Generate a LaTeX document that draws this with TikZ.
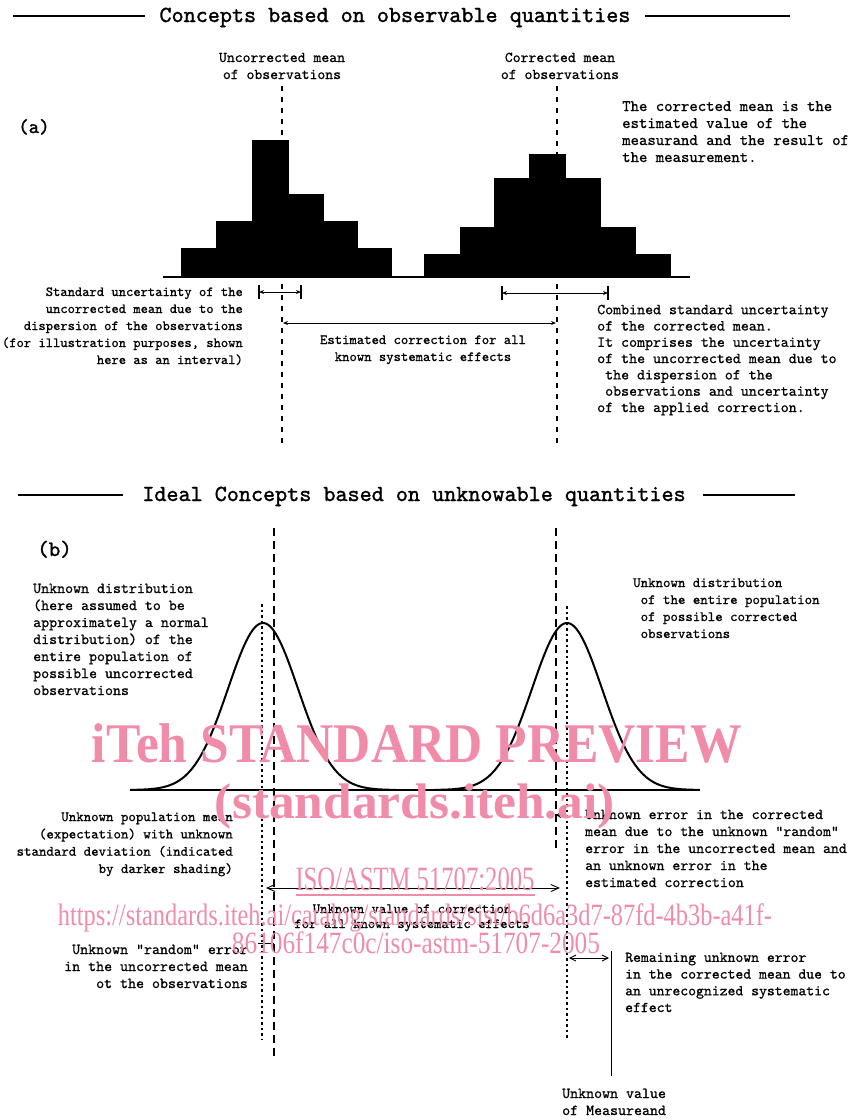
\documentclass[tikz,border=0pt]{standalone}
\usepackage{fontspec}
\usepackage{graphicx}
\newfontfamily\wmfont{Liberation Serif}
\newfontfamily\plotfont{lmmono10-regular.otf}[FakeBold=0.8]
\newfontfamily\plotfontH{lmmono10-regular.otf}[FakeBold=1.4]
\usetikzlibrary{arrows.meta}
\definecolor{wmpink}{RGB}{240,140,170}
\newcommand\fsz[2]{\fontsize{#1}{#2}\selectfont}
\begin{document}
\begin{tikzpicture}[x=1pt,y=-1pt,
  txt/.style={font=\plotfont\fsz{15}{17}, inner sep=0pt},
  ttl/.style={font=\plotfontH\fsz{23}{24}, inner sep=0pt},
  hline/.style={line width=1.3pt},
  meanA/.style={line width=1.5pt, dash pattern=on 5pt off 6pt},
  dashB/.style={line width=1.6pt, dash pattern=on 8pt off 5pt},
  dotB/.style={line width=1.6pt, dash pattern=on 2.5pt off 3pt},
  hist/.style={fill=black, draw=black, line width=0.6pt},
  base/.style={line width=1.8pt},
  bell/.style={line width=2pt, line join=round},
  tick/.style={line width=1.2pt},
  arrA/.style={line width=0.9pt, {Stealth[length=5pt,width=4pt]}-{Stealth[length=5pt,width=4pt]}},
  arrB/.style={line width=0.9pt, {Straight Barb[length=8pt,width=7pt]}-{Straight Barb[length=8pt,width=7pt]}},
  wm/.style={text=wmpink, inner sep=0pt, font=\wmfont},
]
\useasboundingbox (0,0) rectangle (854,1120);

% ---------------- headings ----------------
\node[ttl, anchor=base] (h1) at (395,22) {Concepts based on observable quantities};
\coordinate (h1a) at (13,16); \coordinate (h1b) at (145,16);
\coordinate (h1c) at (645,16); \coordinate (h1d) at (790,16);
\draw[hline] (h1a) -- (h1b); \draw[hline] (h1c) -- (h1d);

\node[ttl, anchor=base] (h2) at (414,501) {Ideal Concepts based on unknowable quantities};
\coordinate (h2a) at (18,495); \coordinate (h2b) at (123,495);
\coordinate (h2c) at (703,495); \coordinate (h2d) at (795,495);
\draw[hline] (h2a) -- (h2b); \draw[hline] (h2c) -- (h2d);

\node[txt, font=\plotfontH\fsz{20}{22}, anchor=base west] (pa) at (18,133) {(a)};
\node[txt, font=\plotfontH\fsz{22}{24}, anchor=base west] (pb) at (37,556) {(b)};

% ---------------- part (a) ----------------
% (anchor = baseline of the LAST line)
\node[txt, align=center, anchor=base] (um) at (282,79) {Uncorrected mean\\of observations};
\node[txt, align=center, anchor=base] (cm) at (560,79) {Corrected mean\\of observations};

\node[txt, font=\plotfont\fsz{16}{17}, align=left, anchor=base west] (cmt) at (622,162)
  {The corrected mean is the\\estimated value of the\\measurand and the result of\\the measurement.};

% histograms
\draw[hist] (181,277) -- (181,248) -- (216,248) -- (216,221) -- (252,221) -- (252,140)
  -- (288,140) -- (288,194) -- (323,194) -- (323,221) -- (357,221) -- (357,248)
  -- (391,248) -- (391,277) -- cycle;
\draw[hist] (424,277) -- (424,254) -- (460,254) -- (460,227) -- (494,227) -- (494,178)
  -- (529,178) -- (529,154) -- (565,154) -- (565,178) -- (600,178) -- (600,227)
  -- (635,227) -- (635,254) -- (670,254) -- (670,277) -- cycle;
\coordinate (ba1) at (163,277); \coordinate (ba2) at (690,277);
\draw[base] (ba1) -- (ba2);

% mean lines
\coordinate (ml1) at (282,86); \coordinate (ml2) at (282,446);
\coordinate (mr1) at (557,86); \coordinate (mr2) at (557,446);
\draw[meanA] (ml1) -- (ml2);
\draw[meanA] (mr1) -- (mr2);

% uncertainty intervals
\coordinate (i1l) at (259,292); \coordinate (i1r) at (301,292);
\draw[arrA] (i1l) -- (i1r);
\draw[tick] (i1l) ++(0,-7) -- ++(0,14);
\draw[tick] (i1r) ++(0,-7) -- ++(0,14);
\coordinate (i2l) at (502,293); \coordinate (i2r) at (608,293);
\draw[arrA] (i2l) -- (i2r);
\draw[tick] (i2l) ++(0,-7) -- ++(0,14);
\draw[tick] (i2r) ++(0,-7) -- ++(0,14);

% estimated correction
\coordinate (ec1) at (283,323); \coordinate (ec2) at (556,323);
\draw[arrA] (ec1) -- (ec2);

\node[txt, font=\plotfont\fsz{13.9}{17}, align=right, anchor=base east] (su) at (243,364)
  {Standard uncertainty of the\\uncorrected mean due to the\\dispersion of the observations\\(for illustration purposes, shown\\here as an interval)};
\node[txt, font=\plotfont\fsz{14}{17}, align=center, anchor=base] (ect) at (423,361)
  {Estimated correction for all\\known systematic effects};
\node[txt, font=\plotfont\fsz{15.2}{16.3}, align=left, anchor=base west] (csu) at (597,412)
  {Combined standard uncertainty\\of the corrected mean.\\It comprises the uncertainty\\of the uncorrected mean due to\\\ the dispersion of the\\\ observations and uncertainty\\of the applied correction.};

% ---------------- part (b) ----------------
\coordinate (b1) at (130,790); \coordinate (b2) at (700,790);
\draw[base] (b1) -- (b2);
\draw[bell] plot[domain=-3.8:3.8, samples=120, smooth] ({263+35*\x},{790-167*exp(-0.5*\x*\x)});
\draw[bell] plot[domain=-3.8:3.8, samples=120, smooth] ({567+35*\x},{790-167*exp(-0.5*\x*\x)});

\coordinate (ld1) at (274,528); \coordinate (ld2) at (274,1060);
\coordinate (lp1) at (262,604); \coordinate (lp2) at (262,1040);
\coordinate (rd1) at (556,528); \coordinate (rd2) at (556,848);
\coordinate (rp1) at (567,606); \coordinate (rp2) at (567,1038);
\draw[dashB] (ld1) -- (ld2);
\draw[dotB] (lp1) -- (lp2);
\draw[dashB] (rd1) -- (rd2);
\draw[dotB] (rp1) -- (rp2);

\node[txt, font=\plotfont\fsz{15.2}{17}, align=left, anchor=base west] (ud) at (33,695)
  {Unknown distribution\\(here assumed to be\\approximately a normal\\distribution) of the\\entire population of\\possible uncorrected\\observations};
\node[txt, font=\plotfont\fsz{14.2}{17}, align=left, anchor=base west] (ud2) at (633,638)
  {Unknown distribution\\\ of the entire population\\\ of possible corrected\\\ observations};

\node[txt, font=\plotfont\fsz{14.2}{17.3}, align=right, anchor=base east] (upm) at (233,873)
  {Unknown population mean\\(expectation) with unknown\\standard deviation (indicated\\by darker shading)};
\node[txt, font=\plotfont\fsz{15.1}{17}, align=left, anchor=base west] (uec) at (585,887)
  {Unknown error in the corrected\\mean due to the unknown "random"\\error in the uncorrected mean and\\an unknown error in the\\estimated correction};
\coordinate (ue1) at (567,815); \coordinate (ue2) at (556,815);
\draw[line width=0.9pt, -{Straight Barb[length=4pt,width=5pt]}] (ue1) -- (ue2);

\coordinate (uv1) at (266,888); \coordinate (uv2) at (560,888);
\draw[arrB] (uv1) -- (uv2);
\node[txt, font=\plotfont\fsz{14}{15}, align=center, anchor=base] (uvc) at (412,928)
  {Unknown value of correction\\for all known systematic effects};

\node[txt, font=\plotfont\fsz{15.2}{17}, align=right, anchor=base east] (ure) at (248,988)
  {Unknown "random" error\\in the uncorrected mean\\ot the observations};
\coordinate (ur1) at (258,943); \coordinate (ur2) at (274,943);
\draw[line width=1pt] (ur1) -- (ur2);

\coordinate (rm1) at (569,958); \coordinate (rm2) at (609,958);
\draw[line width=0.9pt, {Straight Barb[length=6pt,width=6pt]}-{Straight Barb[length=6pt,width=6pt]}] (rm1) -- (rm2);
\coordinate (mv1) at (611,951); \coordinate (mv2) at (611,1076);
\draw[line width=0.8pt] (mv1) -- (mv2);
\node[txt, font=\plotfont\fsz{15}{16.7}, align=left, anchor=base west] (rue) at (625,1012)
  {Remaining unknown error\\in the corrected mean due to\\an unrecognized systematic\\effect};
\node[txt, font=\plotfont\fsz{15.2}{17}, align=left, anchor=base west] (uvm) at (562,1115)
  {Unknown value\\of Measureand};

% ---------------- watermark ----------------
\node[wm, anchor=base] (w1) at (417,762) {\resizebox{650pt}{\height}{\fsz{56}{56}\bfseries iTeh STANDARD PREVIEW}};
\node[wm, anchor=base] (w2) at (415,818) {\resizebox{400pt}{\height}{\fsz{50}{50}\bfseries (standards.iteh.ai)}};
\node[wm, anchor=base] (w3) at (415,890) {\resizebox{239pt}{\height}{\fsz{34}{34}ISO/ASTM 51707:2005}};
\coordinate (wu1) at (296,895); \coordinate (wu2) at (535,895);
\draw[wmpink, line width=1.4pt] (wu1) -- (wu2);
\node[wm, anchor=base] (w4) at (415,925) {\resizebox{714pt}{\height}{\fsz{31}{31}https://standards.iteh.ai/catalog/standards/sist/b6d6a3d7-87fd-4b3b-a41f-}};
\node[wm, anchor=base] (w5) at (416,953) {\resizebox{368pt}{\height}{\fsz{31}{31}86106f147c0c/iso-astm-51707-2005}};
\end{tikzpicture}
\end{document}
